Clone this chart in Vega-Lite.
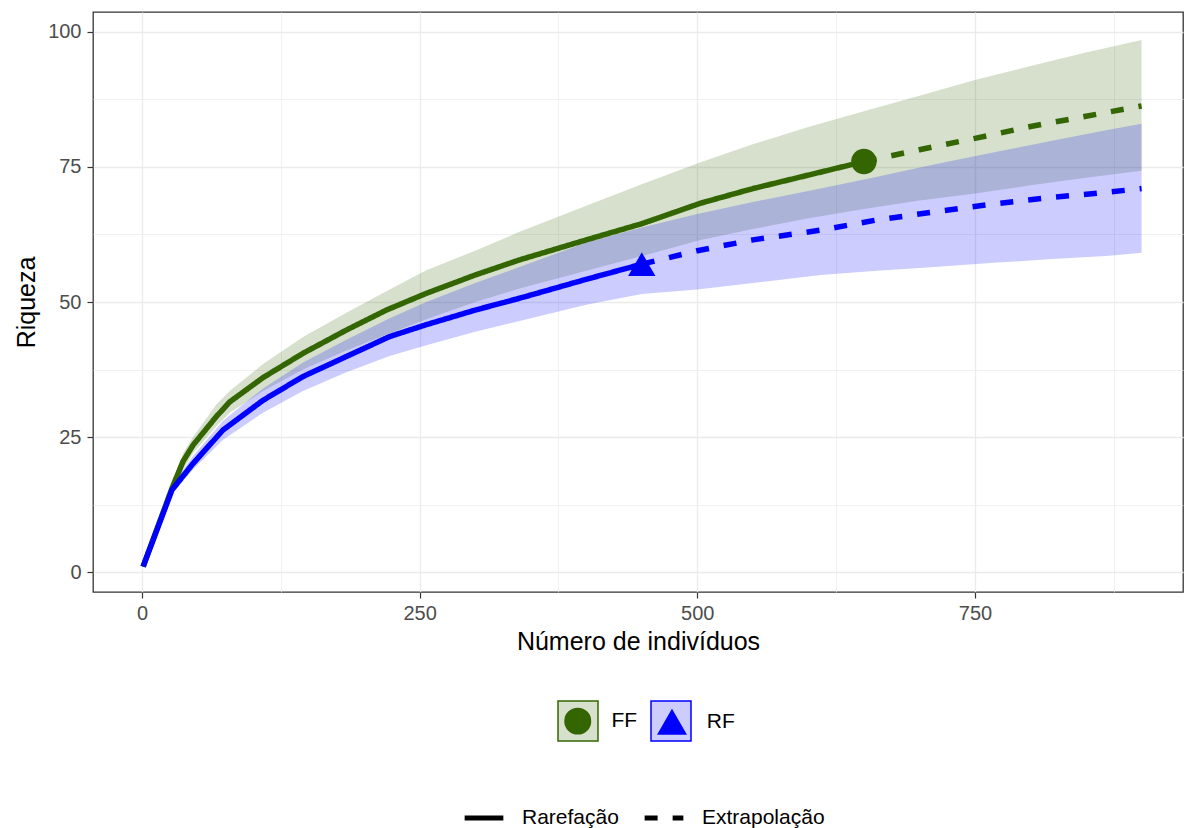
{
  "$schema": "https://vega.github.io/schema/vega-lite/v6.json",
  "width": 1090,
  "height": 580,
  "autosize": {"type": "none"},
  "padding": {"left": 93, "top": 12, "right": 1, "bottom": 236},
  "background": "white",
  "config": {
    "font": "Liberation Sans",
    "view": {"stroke": "#333333", "strokeWidth": 1.3},
    "axis": {
      "labelFont": "Liberation Sans",
      "titleFont": "Liberation Sans",
      "labelFontSize": 20,
      "labelColor": "#4d4d4d",
      "titleFontSize": 25,
      "titleFontWeight": "normal",
      "titleColor": "#000000",
      "domain": false,
      "tickColor": "#333333",
      "tickSize": 6,
      "tickWidth": 1.2,
      "gridColor": "#ebebeb"
    },
    "legend": {"labelFont": "Liberation Sans", "labelFontSize": 21, "labelColor": "#000000"}
  },
  "datasets": {
    "curves": [
      {"site": "FF", "method": "Rarefação", "x": 1, "y": 1, "lo": 1, "hi": 1},
      {"site": "FF", "method": "Rarefação", "x": 27, "y": 15.5, "lo": 15, "hi": 16},
      {"site": "FF", "method": "Rarefação", "x": 37, "y": 20.5, "lo": 19, "hi": 22},
      {"site": "FF", "method": "Rarefação", "x": 46, "y": 23.5, "lo": 22, "hi": 25},
      {"site": "FF", "method": "Rarefação", "x": 67, "y": 28.8, "lo": 27, "hi": 31},
      {"site": "FF", "method": "Rarefação", "x": 79, "y": 31.5, "lo": 29.5, "hi": 33.5},
      {"site": "FF", "method": "Rarefação", "x": 109, "y": 36, "lo": 33.5, "hi": 38.5},
      {"site": "FF", "method": "Rarefação", "x": 145, "y": 40.5, "lo": 37.5, "hi": 43.5},
      {"site": "FF", "method": "Rarefação", "x": 184, "y": 44.8, "lo": 41, "hi": 48},
      {"site": "FF", "method": "Rarefação", "x": 220, "y": 48.5, "lo": 44, "hi": 52},
      {"site": "FF", "method": "Rarefação", "x": 256, "y": 51.6, "lo": 46.8, "hi": 55.9},
      {"site": "FF", "method": "Rarefação", "x": 300, "y": 55, "lo": 50, "hi": 59.5},
      {"site": "FF", "method": "Rarefação", "x": 340, "y": 57.8, "lo": 52.5, "hi": 63},
      {"site": "FF", "method": "Rarefação", "x": 400, "y": 61.5, "lo": 55.8, "hi": 67.8},
      {"site": "FF", "method": "Rarefação", "x": 450, "y": 64.5, "lo": 58.5, "hi": 71.8},
      {"site": "FF", "method": "Rarefação", "x": 503, "y": 68.3, "lo": 61.5, "hi": 75.9},
      {"site": "FF", "method": "Rarefação", "x": 550, "y": 71, "lo": 63.5, "hi": 79.2},
      {"site": "FF", "method": "Rarefação", "x": 600, "y": 73.5, "lo": 65.5, "hi": 82.4},
      {"site": "FF", "method": "Rarefação", "x": 650, "y": 76, "lo": 67.2, "hi": 85.3},
      {"site": "FF", "method": "Extrapolação", "x": 650, "y": 76, "lo": 67.2, "hi": 85.3},
      {"site": "FF", "method": "Extrapolação", "x": 700, "y": 78.2, "lo": 68.8, "hi": 88.2},
      {"site": "FF", "method": "Extrapolação", "x": 750, "y": 80.3, "lo": 70.1, "hi": 91.1},
      {"site": "FF", "method": "Extrapolação", "x": 800, "y": 82.5, "lo": 71.6, "hi": 93.7},
      {"site": "FF", "method": "Extrapolação", "x": 850, "y": 84.4, "lo": 73, "hi": 96.2},
      {"site": "FF", "method": "Extrapolação", "x": 900, "y": 86.3, "lo": 74.3, "hi": 98.5},
      {"site": "RF", "method": "Rarefação", "x": 1, "y": 1, "lo": 1, "hi": 1},
      {"site": "RF", "method": "Rarefação", "x": 27, "y": 15.2, "lo": 14.5, "hi": 16},
      {"site": "RF", "method": "Rarefação", "x": 46, "y": 20.1, "lo": 19, "hi": 21.5},
      {"site": "RF", "method": "Rarefação", "x": 73, "y": 26.3, "lo": 24.5, "hi": 28},
      {"site": "RF", "method": "Rarefação", "x": 109, "y": 31.8, "lo": 29.5, "hi": 34},
      {"site": "RF", "method": "Rarefação", "x": 145, "y": 36.2, "lo": 33.5, "hi": 38.8},
      {"site": "RF", "method": "Rarefação", "x": 184, "y": 39.9, "lo": 37, "hi": 43},
      {"site": "RF", "method": "Rarefação", "x": 223, "y": 43.6, "lo": 40, "hi": 47},
      {"site": "RF", "method": "Rarefação", "x": 256, "y": 45.8, "lo": 42, "hi": 50},
      {"site": "RF", "method": "Rarefação", "x": 300, "y": 48.5, "lo": 44.5, "hi": 53.5},
      {"site": "RF", "method": "Rarefação", "x": 340, "y": 50.7, "lo": 46.5, "hi": 56.5},
      {"site": "RF", "method": "Rarefação", "x": 400, "y": 54.2, "lo": 49.5, "hi": 61},
      {"site": "RF", "method": "Rarefação", "x": 450, "y": 57, "lo": 51.5, "hi": 63.8},
      {"site": "RF", "method": "Extrapolação", "x": 450, "y": 57, "lo": 51.5, "hi": 63.8},
      {"site": "RF", "method": "Extrapolação", "x": 500, "y": 59.5, "lo": 52.3, "hi": 66.3},
      {"site": "RF", "method": "Extrapolação", "x": 550, "y": 61.5, "lo": 53.5, "hi": 68.5},
      {"site": "RF", "method": "Extrapolação", "x": 611, "y": 63.3, "lo": 55, "hi": 71},
      {"site": "RF", "method": "Extrapolação", "x": 662, "y": 65.2, "lo": 55.8, "hi": 73.2},
      {"site": "RF", "method": "Extrapolação", "x": 714, "y": 66.7, "lo": 56.5, "hi": 75.5},
      {"site": "RF", "method": "Extrapolação", "x": 764, "y": 68.1, "lo": 57.2, "hi": 77.6},
      {"site": "RF", "method": "Extrapolação", "x": 816, "y": 69.3, "lo": 57.9, "hi": 79.7},
      {"site": "RF", "method": "Extrapolação", "x": 868, "y": 70.3, "lo": 58.5, "hi": 81.8},
      {"site": "RF", "method": "Extrapolação", "x": 900, "y": 71, "lo": 59.1, "hi": 83}
    ],
    "observed": [
      {"site": "FF", "x": 650, "y": 76},
      {"site": "RF", "x": 450, "y": 57}
    ]
  },
  "encoding": {
    "x": {
      "field": "x", "type": "quantitative",
      "scale": {"domain": [-44.1, 937.3], "nice": false, "zero": false},
      "axis": {
        "title": "Número de indivíduos",
        "values": [0, 125, 250, 375, 500, 625, 750, 875],
        "labelExpr": "datum.value % 250 === 0 ? datum.label : ''",
        "tickOpacity": {"condition": {"test": "datum.value % 250 !== 0", "value": 0}, "value": 1},
        "gridWidth": {"condition": {"test": "datum.value % 250 !== 0", "value": 0.7}, "value": 1.3},
        "labelPadding": 5,
        "titlePadding": 6
      }
    },
    "y": {
      "field": "y", "type": "quantitative",
      "scale": {"domain": [-3.7, 103.7], "nice": false, "zero": false},
      "axis": {
        "title": "Riqueza",
        "values": [0, 12.5, 25, 37.5, 50, 62.5, 75, 87.5, 100],
        "labelExpr": "datum.value % 25 === 0 ? datum.label : ''",
        "tickOpacity": {"condition": {"test": "datum.value % 25 !== 0", "value": 0}, "value": 1},
        "gridWidth": {"condition": {"test": "datum.value % 25 !== 0", "value": 0.7}, "value": 1.3},
        "labelPadding": 6,
        "titlePadding": 8
      }
    }
  },
  "layer": [
    {
      "data": {"name": "curves"},
      "mark": {"type": "area", "fillOpacity": 0.2},
      "encoding": {
        "y": {"field": "lo", "type": "quantitative"},
        "y2": {"field": "hi"},
        "fill": {
          "field": "site", "type": "nominal",
          "scale": {"range": ["#336600", "#0000ff"]},
          "legend": {
            "title": null,
            "orient": "none",
            "direction": "horizontal",
            "legendX": 464,
            "legendY": 688,
            "symbolType": "square",
            "symbolSize": 1600,
            "symbolOpacity": 1,
            "symbolStrokeWidth": 1.5,
            "labelOffset": 13,
            "columnPadding": 10,
            "labelOpacity": 0,
            "zindex": 1,
            "encode": {"symbols": {"update": {"fillOpacity": {"value": 0.2}, "strokeOpacity": {"value": 1}, "opacity": {"value": 1}, "stroke": {"scale": "fill", "field": "value"}}}}
          }
        }
      }
    },
    {
      "data": {"name": "curves"},
      "mark": {"type": "line", "strokeWidth": 5.5, "strokeCap": "butt"},
      "encoding": {
        "color": {"field": "site", "type": "nominal", "scale": {"domain": ["FF", "RF"], "range": ["#336600", "#0000ff"]}},
        "strokeDash": {
          "field": "method", "type": "nominal",
          "scale": {"domain": ["Rarefação", "Extrapolação"], "range": [[1, 0], [13, 15]]},
          "legend": {
            "title": null,
            "orient": "none",
            "direction": "horizontal",
            "legendX": 369,
            "legendY": 784,
            "symbolType": "stroke",
            "symbolSize": 1500,
            "symbolStrokeWidth": 5,
            "symbolStrokeColor": "#000000",
            "columnPadding": 15,
            "labelOffset": 16,
            "labelFontSize": 21
          }
        },
        "order": {"field": "x", "type": "quantitative"}
      }
    },
    {
      "data": {"name": "observed"},
      "mark": {"type": "point", "filled": true, "opacity": 1},
      "encoding": {
        "color": {
          "field": "site", "type": "nominal",
          "legend": {
            "title": null,
            "orient": "none",
            "direction": "horizontal",
            "legendX": 471.25,
            "legendY": 695.25,
            "symbolSize": 650,
            "symbolOpacity": 1,
            "columnPadding": 17.25,
            "labelOffset": 20.25,
            "labelFontSize": 21,
            "zindex": 2
          }
        },
        "shape": {"field": "site", "type": "nominal", "scale": {"domain": ["FF", "RF"], "range": ["circle", "triangle-up"]}},
        "size": {"field": "site", "type": "nominal", "scale": {"domain": ["FF", "RF"], "range": [650, 750]}, "legend": null}
      }
    }
  ]
}
